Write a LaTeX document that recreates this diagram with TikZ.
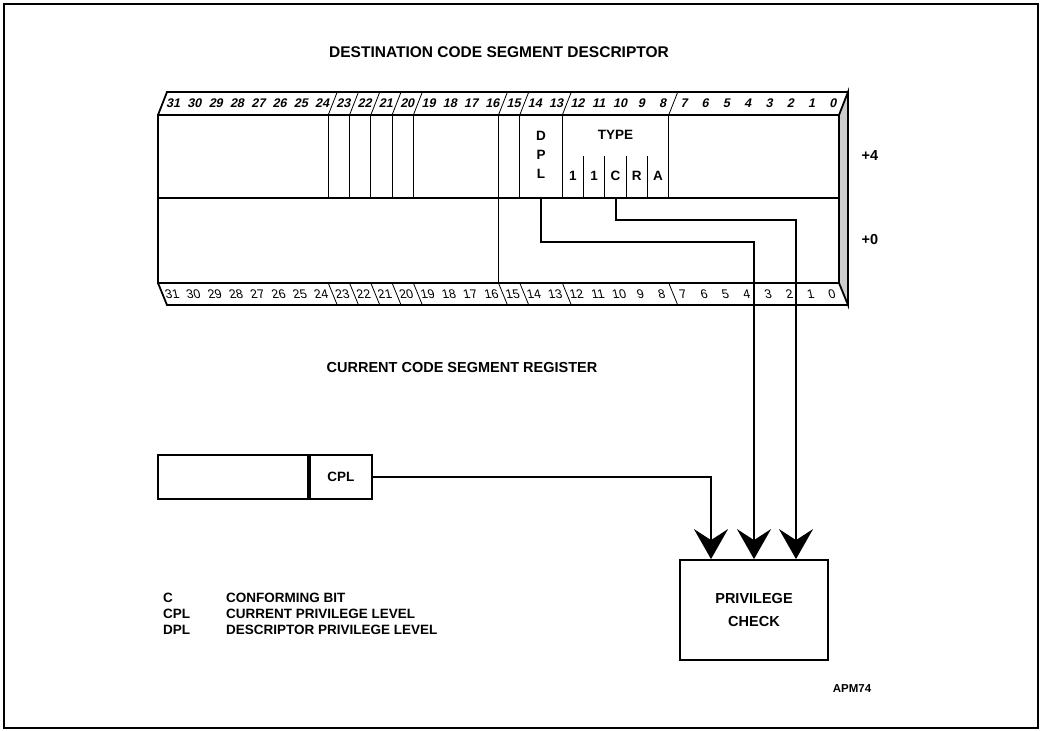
\documentclass[tikz,border=0pt]{standalone}
\usepackage{fontspec}
\setmainfont{Liberation Sans}
\newfontfamily\fwdslant[FakeSlant=0.22]{Liberation Sans}
\newfontfamily\bckslant[FakeSlant=-0.22]{Liberation Sans}
\usetikzlibrary{arrows.meta, positioning, calc}
\newcommand{\bitw}{21.28}

\begin{document}
\begin{tikzpicture}[
  x=1pt, y=-1pt,
  lbl/.style={font=\bfseries\fontsize{13.5}{19}\selectfont, inner sep=0pt},
  heading/.style={font=\bfseries\fontsize{14.5}{17}\selectfont, inner sep=0pt},
  bitnum/.style={font=\fwdslant\bfseries\fontsize{12.5}{12}\selectfont, inner sep=0pt},
  bitnumlow/.style={font=\bckslant\fontsize{12.5}{12}\selectfont, inner sep=0pt},
  bitcell/.style={lbl, minimum width=\bitw pt, minimum height=42pt},
  cell/.style={draw, line width=1.8pt, inner sep=0pt},
  outline/.style={line width=1.8pt, line join=miter},
  divider/.style={line width=0.8pt},
  arrow/.style={line width=2pt, -{Stealth[length=30pt, width=34pt, inset=11pt]}}
]
\useasboundingbox (0,0) rectangle (1042,731);
\draw[line width=1.2pt] (4,4) rectangle (1038,728);

\node[heading, font=\bfseries\fontsize{15.5}{17}\selectfont] (title) at (499,52) {DESTINATION CODE SEGMENT DESCRIPTOR};

% descriptor body
\filldraw[fill=gray!40, outline] (839,115) -- (848,92) -- (848,305) -- (839,283) -- cycle;
\draw[outline] (158,115) -- (167,92) -- (848,92);
\draw[outline] (158,283) -- (167,305) -- (848,305);
\draw[outline] (158,115) rectangle (839,283);
\draw[outline] (158,198) -- (839,198);

% field boundaries
\foreach \b in {23,22,21,20,19,15,14,12,7} {
  \pgfmathsetmacro{\xb}{158+(31-\b)*\bitw}
  \draw[divider] (\xb,115) -- (\xb+9,92);
  \draw[divider] (\xb,283) -- (\xb+9,305);
  \draw[divider] (\xb,115) -- (\xb,198);
}
\foreach \b in {11,10,9,8} {
  \pgfmathsetmacro{\xb}{158+(31-\b)*\bitw}
  \draw[divider] (\xb,156) -- (\xb,198);
}
\pgfmathsetmacro{\xb}{158+16*\bitw}
\draw[divider] (\xb,198) -- (\xb,283);

% bit numbers
\foreach \b in {0,...,31} {
  \pgfmathsetmacro{\xc}{158+(31.5-\b)*\bitw+4.5}
  \node[bitnum] (t\b) at (\xc,103) {\b};
  \node[bitnumlow] (u\b) at (\xc,294) {\b};
}

% fields of the +4 word
\node[lbl, align=center, minimum width=42pt, minimum height=83pt] (dpl) at (541,155) {D\\P\\L};
\node[lbl] (type) at (615.5,135) {TYPE};
\node[bitcell] (b12) at ({158+19.5*\bitw},176) {1};
\node[bitcell] (b11) at ({158+20.5*\bitw},176) {1};
\node[bitcell] (cbit) at ({158+21.5*\bitw},176) {C};
\node[bitcell] (rbit) at ({158+22.5*\bitw},176) {R};
\node[bitcell] (abit) at ({158+23.5*\bitw},176) {A};

\node[heading] (off4) at (870,156) {+4};
\node[heading] (off0) at (870,240) {+0};

% current code segment register
\node[heading] (curtitle) at (462,368) {CURRENT CODE SEGMENT REGISTER};
\node[cell, minimum width=150pt, minimum height=44pt] (csreg) at (233,477) {};
\node[cell, lbl, minimum width=62pt, minimum height=44pt, right=0pt of csreg] (cpl) {CPL};

\node[cell, heading, font=\bfseries\fontsize{14.5}{23}\selectfont, align=center, minimum width=148pt, minimum height=100pt] (check) at (754,610) {PRIVILEGE\\CHECK};

\coordinate (dplbend) at (754,242);
\coordinate (cbend) at (796,220);
\draw[arrow] (cpl.east) -| ([xshift=-43pt]check.north);
\draw[arrow] (dpl.south) |- (dplbend) -- (dplbend |- check.north);
\draw[arrow] (cbit.south) |- (cbend) -- (cbend |- check.north);

% legend
\node[lbl, anchor=west] (keyc) at (163,598) {C};
\node[lbl, anchor=west] (keycpl) at (163,614) {CPL};
\node[lbl, anchor=west] (keydpl) at (163,630) {DPL};
\node[lbl, anchor=west] (descc) at (226,598) {CONFORMING BIT};
\node[lbl, anchor=west] (desccpl) at (226,614) {CURRENT PRIVILEGE LEVEL};
\node[lbl, anchor=west] (descdpl) at (226,630) {DESCRIPTOR PRIVILEGE LEVEL};

\node[lbl, font=\bfseries\fontsize{11.5}{12}\selectfont] (fig) at (852,689) {APM74};
\end{tikzpicture}
\end{document}
